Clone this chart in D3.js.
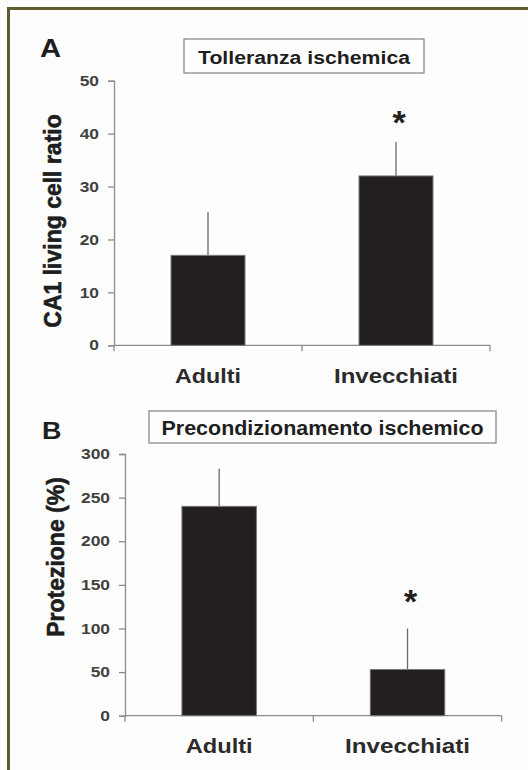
<!DOCTYPE html>
<html><head><meta charset="utf-8">
<script src="https://cdn.jsdelivr.net/npm/d3@7"></script>
<style>
html,body{margin:0;padding:0;background:#fdfdfd;}
text{font-family:"Liberation Sans",Arial,sans-serif;font-weight:bold;}
</style></head>
<body>
<script>
// ---- data ----
const categories = ["Adulti", "Invecchiati"];
const tolleranzaValues = [17, 32];
const tolleranzaErrors = [8.2, 6.4];
const tolleranzaSig = ["", "*"];
const tolleranzaTicks = [0, 10, 20, 30, 40, 50];
const precondValues = [240, 53];
const precondErrors = [43, 47];
const precondSig = ["", "*"];
const precondTicks = [0, 50, 100, 150, 200, 250, 300];
const panelLetters = ["A", "B"];
const panelTitles = ["Tolleranza ischemica", "Precondizionamento ischemico"];
const yTitles = ["CA1  living cell ratio", "Protezione (%)"];

const W = 528, H = 770;
const svg = d3.select("body").append("svg").attr("width", W).attr("height", H);
svg.append("rect").attr("width", W).attr("height", H).attr("fill", "#fdfdfd");
// frame
svg.append("line").attr("x1", 7).attr("x2", W).attr("y1", 8.5).attr("y2", 8.5)
  .attr("stroke", "#5f5c31").attr("stroke-width", 3);
svg.append("line").attr("x1", 8.5).attr("x2", 8.5).attr("y1", 7).attr("y2", H)
  .attr("stroke", "#5f5c31").attr("stroke-width", 3);

function stretch(sel, f) {
  sel.each(function () {
    const l = this.getComputedTextLength();
    d3.select(this).attr("textLength", l * f).attr("lengthAdjust", "spacingAndGlyphs");
  });
}

const panels = [
  { values: tolleranzaValues, errors: tolleranzaErrors, sig: tolleranzaSig, ticks: tolleranzaTicks,
    letter: panelLetters[0], title: panelTitles[0], ytitle: yTitles[0],
    x0: 114, x1: 490, yTop: 80.7, yBot: 345.3, barW: 74,
    letterPos: [40, 57, 25], box: [184, 39, 240, 34], titleSize: 18, titleW: 212, titleBase: 64,
    yTitlePos: [53, 221, 23], tickSize: 14.5, labelBase: 383, labelSize: 21, labelW: [66, 124],
    sigOffset: 8 },
  { values: precondValues, errors: precondErrors, sig: precondSig, ticks: precondTicks,
    letter: panelLetters[1], title: panelTitles[1], ytitle: yTitles[1],
    x0: 125, x1: 501.7, yTop: 454, yBot: 715.7, barW: 74.5,
    letterPos: [42, 439, 23], box: [149, 411, 347, 32], titleSize: 20, titleW: 322, titleBase: 435,
    yTitlePos: [56, 557, 23], tickSize: 14.5, labelBase: 753, labelSize: 21, labelW: [67, 125],
    sigOffset: 15 }
];

panels.forEach(p => {
  const g = svg.append("g");
  const x = d3.scaleBand().domain(categories).range([p.x0, p.x1]).padding(0);
  const y = d3.scaleLinear().domain([0, d3.max(p.ticks)]).range([p.yBot, p.yTop]);

  // y axis
  const yAxis = d3.axisLeft(y).tickValues(p.ticks).tickSize(6).tickPadding(9).tickFormat(d3.format("d"));
  const ya = g.append("g").attr("transform", `translate(${p.x0},0)`).call(yAxis);
  ya.select(".domain").attr("stroke", "#8c8c8c").attr("stroke-width", 1.3);
  ya.selectAll(".tick line").attr("stroke", "#8c8c8c").attr("stroke-width", 1.3);
  ya.selectAll(".tick text").attr("fill", "#404040").style("font-size", p.tickSize + "px")
    .style("font-family", "'Liberation Sans',Arial,sans-serif").style("font-weight", "bold");
  stretch(ya.selectAll(".tick text"), 1.2);

  // x axis (ticks at band edges)
  g.append("line").attr("x1", p.x0).attr("x2", p.x1).attr("y1", y(0)).attr("y2", y(0))
    .attr("stroke", "#8c8c8c").attr("stroke-width", 1.3);
  const edges = [p.x0].concat(categories.map(c => x(c) + x.bandwidth()));
  g.selectAll(".xt").data(edges).enter().append("line")
    .attr("x1", d => d).attr("x2", d => d).attr("y1", y(0)).attr("y2", y(0) + 6)
    .attr("stroke", "#8c8c8c").attr("stroke-width", 1.3);

  // error bars (upper only)
  g.selectAll(".err").data(p.values).enter().append("line")
    .attr("x1", (d, i) => x(categories[i]) + x.bandwidth() / 2)
    .attr("x2", (d, i) => x(categories[i]) + x.bandwidth() / 2)
    .attr("y1", d => y(d)).attr("y2", (d, i) => y(d + p.errors[i]))
    .attr("stroke", "#6a6a6a").attr("stroke-width", 1.3);

  // bars
  g.selectAll(".bar").data(p.values).enter().append("rect")
    .attr("x", (d, i) => x(categories[i]) + x.bandwidth() / 2 - p.barW / 2)
    .attr("width", p.barW)
    .attr("y", d => y(d)).attr("height", d => y(0) - y(d))
    .attr("fill", "#231f20").attr("stroke", "#7a7a7a").attr("stroke-width", 1);

  // significance
  g.selectAll(".sig").data(p.sig).enter().append("text")
    .attr("x", (d, i) => x(categories[i]) + x.bandwidth() / 2 + 3)
    .attr("y", (d, i) => y(p.values[i] + p.errors[i]) - p.sigOffset)
    .attr("text-anchor", "middle").attr("fill", "#231f20")
    .style("font-size", "34px").text(d => d);

  // category labels
  g.selectAll(".cl").data(categories).enter().append("text")
    .attr("x", c => x(c) + x.bandwidth() / 2)
    .attr("y", p.labelBase).attr("text-anchor", "middle").attr("fill", "#2b2b2b")
    .style("font-size", p.labelSize + "px")
    .attr("textLength", (c, i) => p.labelW[i]).attr("lengthAdjust", "spacingAndGlyphs")
    .text(c => c);

  // y title
  g.append("text").attr("transform", `translate(${p.yTitlePos[0]},${p.yTitlePos[1]}) rotate(-90)`)
    .attr("text-anchor", "middle").attr("dominant-baseline", "central").attr("fill", "#1e1e1e")
    .attr("stroke", "#1e1e1e").attr("stroke-width", 0.6)
    .style("font-size", p.yTitlePos[2] + "px").text(p.ytitle);

  // panel letter
  const lt = g.append("text").attr("x", p.letterPos[0]).attr("y", p.letterPos[1]).attr("fill", "#1e1e1e")
    .style("font-size", p.letterPos[2] + "px").text(p.letter);
  stretch(lt, 1.17);

  // title box
  g.append("rect").attr("x", p.box[0]).attr("y", p.box[1]).attr("width", p.box[2]).attr("height", p.box[3])
    .attr("fill", "#fefefe").attr("stroke", "#8a8a8a").attr("stroke-width", 1.3);
  g.append("text").attr("x", p.box[0] + p.box[2] / 2).attr("y", p.titleBase)
    .attr("text-anchor", "middle").attr("fill", "#1e1e1e")
    .style("font-size", p.titleSize + "px")
    .attr("textLength", p.titleW).attr("lengthAdjust", "spacingAndGlyphs")
    .text(p.title);
});
</script>
</body></html>
